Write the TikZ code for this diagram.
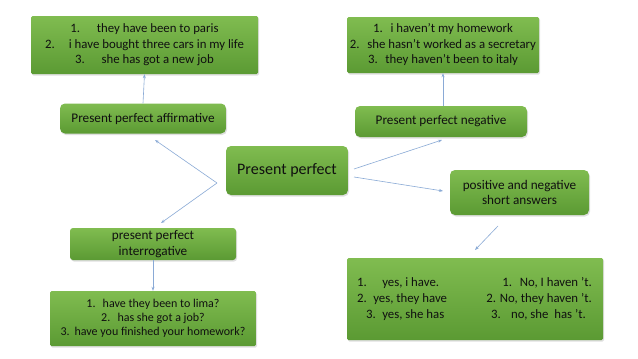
\documentclass[tikz,border=0pt]{standalone}
\usepackage{fontspec}
\setmainfont{Carlito}
\usetikzlibrary{arrows.meta,shadows}
\definecolor{gtop}{HTML}{80BC50}
\definecolor{gbot}{HTML}{5B9A33}
\definecolor{txt}{HTML}{101010}
\definecolor{arr}{HTML}{8AAAD6}
\tikzset{
  gbox/.style={draw=none, top color=gtop, bottom color=gbot, text=txt,
    align=center, inner sep=0pt,
    drop shadow={shadow xshift=1pt, shadow yshift=-1.5pt, opacity=0.25}},
  listbox/.style={gbox, rounded corners=1.5pt, font=\fontsize{12.8}{15.5}\selectfont},
  labbox/.style={gbox, rounded corners=5pt, font=\fontsize{13.2}{15.5}\selectfont},
  conn/.style={draw=arr, line width=0.6pt, -{Stealth[length=4pt,width=3pt]}},
  txtnode/.style={text=txt, inner sep=0pt, font=\fontsize{12.8}{15.5}\selectfont}
}
\begin{document}
\begin{tikzpicture}[x=1pt,y=-1pt]
\useasboundingbox[fill=white] (0,0) rectangle (638,359);
% boxes
\node[listbox, minimum width=227, minimum height=58] (A) at (144.5,45)
  {1.\hspace{1.3em}they have been to paris\\
   2.\hspace{1.1em}i have bought three cars in my life\\
   3.\hspace{1.3em}she has got a new job};
\node[labbox, minimum width=166, minimum height=30] (B) at (143,118.5) {Present perfect affirmative};
\node[listbox, minimum width=192, minimum height=56] (C) at (443,45)
  {1.\hspace{0.6em}i haven't my homework\\
   2.\hspace{0.6em}she hasn't worked as a secretary\\
   3.\hspace{0.6em}they haven't been to italy};
\node[labbox, minimum width=172, minimum height=31] (D) at (441,121.5) {Present perfect negative};
\node[labbox, minimum width=122, minimum height=49, font=\fontsize{16}{18}\selectfont] (P) at (287,170.5) {Present perfect};
\node[labbox, minimum width=139, minimum height=45] (E) at (519.5,192.5) {positive and negative\\short answers};
\node[labbox, minimum width=166, minimum height=32, rounded corners=3pt] (F) at (153,244) {present perfect\\interrogative};
\node[listbox, minimum width=206, minimum height=55, font=\fontsize{12}{14}\selectfont] (G) at (153,318.5)
  {1.\hspace{0.6em}have they been to lima?\\
   2.\hspace{0.6em}has she got a job?\\
   3.\hspace{0.4em}have you finished your homework?};
\node[listbox, minimum width=256, minimum height=82] (H) at (475,299) {};
\node[txtnode, anchor=west] (h1) at (357,283) {1.\hspace{1.2em}yes, i have.};
\node[txtnode, anchor=west] (h2) at (357,299) {2.\hspace{0.5em}yes, they have};
\node[txtnode, anchor=west] (h3) at (366,315) {3.\hspace{0.5em}yes, she has};
\node[txtnode, anchor=east] (h4) at (592,283) {1.\hspace{0.6em}No, I haven 't.};
\node[txtnode, anchor=east] (h5) at (592,299) {2. No, they haven 't.};
\node[txtnode, anchor=east] (h6) at (586,315) {3.\hspace{0.8em}no, she\ \ has 't.};
% connector points
\coordinate (v) at (217,183);
\coordinate (pr1) at (354,169);
\coordinate (pr2) at (354,177);
\coordinate (e1) at (442,140);
\coordinate (e2) at (443,191);
\coordinate (s1) at (498,226);
\coordinate (s2) at (475,250);
% connectors
\draw[conn] (B.north) -- (A.south);
\draw[conn] (D.north -| 443,0) -- (C.south -| 443,0);
\draw[conn] (v) -- (155,140);
\draw[conn] (v) -- (161,223);
\draw[conn] (pr1) -- (e1);
\draw[conn] (pr2) -- (e2);
\draw[conn] (s1) -- (s2);
\draw[conn] (F.south) -- (G.north);
\end{tikzpicture}
\end{document}
